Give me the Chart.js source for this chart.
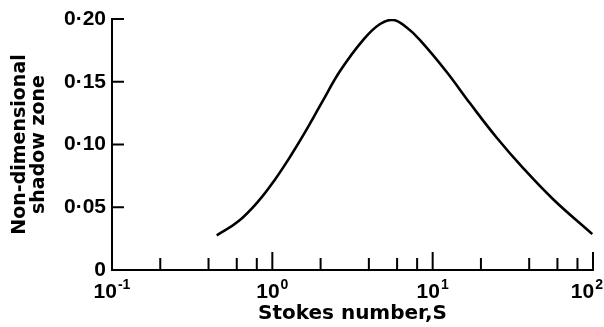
<!DOCTYPE html>
<html>
<head>
<meta charset="utf-8">
<script src="https://cdn.jsdelivr.net/npm/chart.js@4/dist/chart.umd.min.js"></script>
<style>
  html, body { margin: 0; padding: 0; background: #fff; }
  #wrap { width: 604px; height: 327px; position: relative; }
</style>
</head>
<body>
<div id="wrap"><canvas id="c" width="604" height="327"></canvas></div>
<script>
// ---- data ----
const stokesNumber = [0.45, 0.614, 0.818, 1.04, 1.32, 1.60, 2.03, 2.65, 3.70, 4.70, 5.69, 6.89, 8.34, 12.2, 17.1, 25.1, 36.8, 56.6, 99];
const shadowZone   = [0.0276, 0.0388, 0.0548, 0.0722, 0.0922, 0.1098, 0.1331, 0.1587, 0.1836, 0.196, 0.1992, 0.1932, 0.1832, 0.158, 0.1328, 0.1054, 0.081, 0.0562, 0.0286];

const xMajorTicks = [0.1, 1, 10, 100];
const xLabelBase = '10';
const xLabelExponents = ['-1', '0', '1', '2'];
const xMinorTicks = [0.2, 0.4, 0.6, 0.8, 2, 4, 6, 8, 20, 40, 60, 80];
const yTicks = [0, 0.05, 0.10, 0.15, 0.20];
const yTickLabels = ['0', '0\u00B705', '0\u00B710', '0\u00B715', '0\u00B720'];

const xTitle = 'Stokes number,S';
const yTitle = ['Non-dimensional', 'shadow zone'];

const TITLE_FONT = '"DejaVu Sans", sans-serif';
const TICK_FONT = '"Liberation Sans", "DejaVu Sans", sans-serif';

const tickMarks = {
  id: 'tickMarks',
  afterDraw(chart) {
    const ctx = chart.ctx;
    const xs = chart.scales.x, ys = chart.scales.y;
    const bottom = chart.chartArea.bottom, left = chart.chartArea.left;
    ctx.save();
    ctx.strokeStyle = '#000';
    ctx.lineWidth = 2;
    ctx.beginPath();
    xMinorTicks.forEach(v => {
      const px = xs.getPixelForValue(v);
      ctx.moveTo(px, bottom); ctx.lineTo(px, bottom - 12);
    });
    xMajorTicks.forEach(v => {
      const px = xs.getPixelForValue(v);
      ctx.moveTo(px, bottom); ctx.lineTo(px, bottom - 18);
    });
    yTicks.forEach(v => {
      const py = ys.getPixelForValue(v);
      ctx.moveTo(left, py); ctx.lineTo(left + 12, py);
    });
    ctx.stroke();

    // x tick labels with superscript exponents
    ctx.fillStyle = '#000';
    ctx.textBaseline = 'alphabetic';
    ctx.textAlign = 'left';
    const baseFont = 'bold 21px ' + TICK_FONT;
    const expFont = 'bold 14px ' + TICK_FONT;
    xMajorTicks.forEach((v, i) => {
      const px = xs.getPixelForValue(v);
      ctx.font = baseFont;
      const wb = ctx.measureText(xLabelBase).width;
      ctx.font = expFont;
      const we = ctx.measureText(xLabelExponents[i]).width;
      let x0 = px - (wb + we + 1) / 2;
      const maxRight = chart.width - 1;
      if (x0 + wb + we + 1 > maxRight) x0 = maxRight - (wb + we + 1);
      const baseY = bottom + 28;
      ctx.font = baseFont;
      ctx.fillText(xLabelBase, x0, baseY);
      ctx.font = expFont;
      ctx.fillText(xLabelExponents[i], x0 + wb + 1, baseY - 9);
    });
    ctx.restore();
  }
};

new Chart(document.getElementById('c'), {
  type: 'line',
  data: {
    datasets: [{
      data: stokesNumber.map((s, i) => ({ x: s, y: shadowZone[i] })),
      borderColor: '#000',
      borderWidth: 2.6,
      pointRadius: 0,
      fill: false,
      tension: 0.4
    }]
  },
  options: {
    responsive: false,
    animation: false,
    events: [],
    layout: { padding: { top: 19, right: 11, left: 0, bottom: 0 } },
    plugins: { legend: { display: false }, tooltip: { enabled: false } },
    scales: {
      x: {
        type: 'logarithmic',
        min: 0.1, max: 100,
        grid: { display: false, drawTicks: false },
        border: { display: true, color: '#000', width: 2 },
        afterBuildTicks(scale) {
          scale.ticks = xMajorTicks.map(v => ({ value: v, major: true }));
        },
        ticks: { display: false },
        title: { display: true, text: xTitle, color: '#000', font: { family: TITLE_FONT, size: 20, weight: 'bold' }, padding: { top: 0, bottom: 1 } },
        afterFit(scale) { scale.height = 57; scale.paddingLeft = 0; scale.paddingRight = 0; }
      },
      y: {
        min: 0, max: 0.2,
        grid: { display: false, drawTicks: false },
        border: { display: true, color: '#000', width: 2 },
        afterBuildTicks(scale) {
          scale.ticks = yTicks.map(v => ({ value: v }));
        },
        ticks: {
          autoSkip: false, padding: 6, color: '#000',
          font: { family: TICK_FONT, size: 21, weight: 'bold' },
          callback(v) {
            const i = yTicks.findIndex(t => Math.abs(t - v) < 1e-9);
            return i >= 0 ? yTickLabels[i] : null;
          }
        },
        title: { display: true, text: yTitle, color: '#000', font: { family: TITLE_FONT, size: 19, weight: 'bold', lineHeight: 1.0 }, padding: { top: 11, bottom: 0 } },
        afterFit(scale) { scale.width = 112; scale.paddingTop = 0; scale.paddingBottom = 0; }
      }
    }
  },
  plugins: [tickMarks]
});
</script>
</body>
</html>
